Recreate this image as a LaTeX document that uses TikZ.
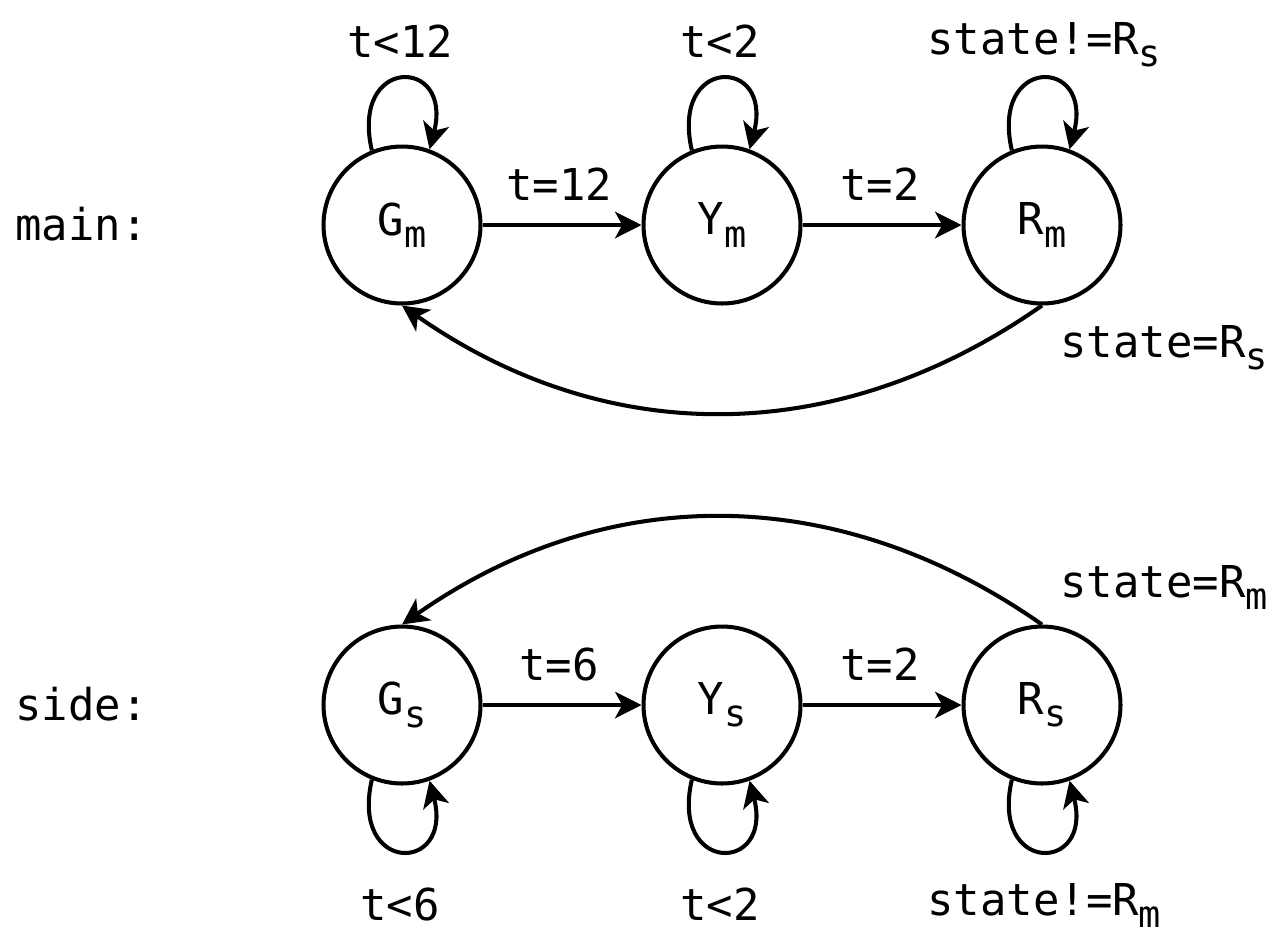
\documentclass[tikz,border=0pt]{standalone}
\usepackage{fontspec}
\setmainfont{DejaVu Sans Mono}
\usetikzlibrary{arrows.meta}

% subscript set in the same mono face, smaller and lowered
\newcommand\lowsub[1]{\raisebox{-7pt}{\fontsize{21}{21}\selectfont #1}}

\tikzset{
  state/.style={circle, draw, line width=2.3pt, minimum size=3.14cm, inner sep=0pt,
                font=\fontsize{25}{25}\selectfont},
  lbl/.style={inner sep=0pt, font=\fontsize{25}{25}\selectfont},
  trans/.style={line width=2.3pt, -{Stealth[length=15pt, width=15pt, inset=4pt]}},
}

\begin{document}
\begin{tikzpicture}[x=0.02cm, y=-0.02cm]
  \useasboundingbox (0,0) rectangle (1284,948);

  % row labels
  \node[lbl, anchor=base west] (lmain) at (15,240) {main:};
  \node[lbl, anchor=base west] (lside) at (15,720) {side:};

  % main light
  \node[state] (Gm) at (402,225) {G\lowsub{m}};
  \node[state] (Ym) at (722,225) {Y\lowsub{m}};
  \node[state] (Rm) at (1042,225) {R\lowsub{m}};

  % side light
  \node[state] (Gs) at (402,705) {G\lowsub{s}};
  \node[state] (Ys) at (722,705) {Y\lowsub{s}};
  \node[state] (Rs) at (1042,705) {R\lowsub{s}};

  % main transitions
  \draw[trans] (Gm) -- (Ym);
  \draw[trans] (Ym) -- (Rm);
  \draw[trans] (Rm.south) to[bend left=35] (Gm.south);
  \draw[trans] (Gm.112) .. controls +(-22,-95) and +(24,-93) .. (Gm.70);
  \draw[trans] (Ym.112) .. controls +(-22,-95) and +(24,-93) .. (Ym.70);
  \draw[trans] (Rm.112) .. controls +(-22,-95) and +(24,-93) .. (Rm.70);

  % side transitions
  \draw[trans] (Gs) -- (Ys);
  \draw[trans] (Ys) -- (Rs);
  \draw[trans] (Rs.north) to[bend right=35] (Gs.north);
  \draw[trans] (Gs.-112) .. controls +(-22,95) and +(24,93) .. (Gs.-70);
  \draw[trans] (Ys.-112) .. controls +(-22,95) and +(24,93) .. (Ys.-70);
  \draw[trans] (Rs.-112) .. controls +(-22,95) and +(24,93) .. (Rs.-70);

  % guards, main
  \node[lbl, anchor=base] (g1) at (400,57) {t<12};
  \node[lbl, anchor=base] (g2) at (720,57) {t<2};
  \node[lbl, anchor=base west] (g3) at (927,54) {state!=R\lowsub{s}};
  \node[lbl, anchor=base] (g4) at (559,200) {t=12};
  \node[lbl, anchor=base] (g5) at (880,200) {t=2};
  \node[lbl, anchor=base west] (g6) at (1060,357) {state=R\lowsub{s}};

  % guards, side
  \node[lbl, anchor=base] (h1) at (400,920) {t<6};
  \node[lbl, anchor=base] (h2) at (720,920) {t<2};
  \node[lbl, anchor=base west] (h3) at (927,915) {state!=R\lowsub{m}};
  \node[lbl, anchor=base] (h4) at (559,680) {t=6};
  \node[lbl, anchor=base] (h5) at (880,680) {t=2};
  \node[lbl, anchor=base west] (h6) at (1060,597) {state=R\lowsub{m}};
\end{tikzpicture}
\end{document}
